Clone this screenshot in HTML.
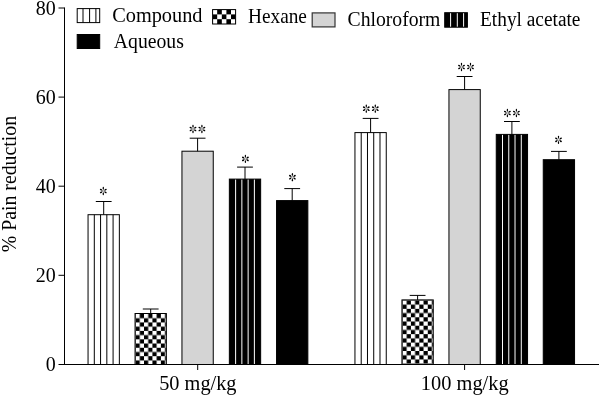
<!DOCTYPE html>
<html><head><meta charset="utf-8"><style>
html,body{margin:0;padding:0;background:#fff;width:600px;height:396px;overflow:hidden}
#w{will-change:transform;width:600px;height:396px}
svg{display:block}
.t{font-family:"Liberation Serif",serif;font-size:20px;fill:#000}
</style></head><body><div id="w">
<svg width="600" height="396" viewBox="0 0 600 396">
<defs>
<pattern id="chk0" patternUnits="userSpaceOnUse" x="135.55" y="314.00" width="8.440" height="8.440">
<rect width="8.440" height="8.440" fill="#fff"/><rect x="4.220" y="0" width="4.220" height="4.220" fill="#000"/><rect x="0" y="4.220" width="4.220" height="4.220" fill="#000"/></pattern>
<pattern id="chk1" patternUnits="userSpaceOnUse" x="402.45" y="300.40" width="8.440" height="8.440">
<rect width="8.440" height="8.440" fill="#fff"/><rect x="4.220" y="0" width="4.220" height="4.220" fill="#000"/><rect x="0" y="4.220" width="4.220" height="4.220" fill="#000"/></pattern>
<pattern id="chkL" patternUnits="userSpaceOnUse" x="212.6" y="9.6" width="9.2" height="9.6">
<rect width="9.2" height="9.6" fill="#fff"/><rect x="4.6" y="0" width="4.6" height="4.8" fill="#000"/><rect x="0" y="4.8" width="4.6" height="4.8" fill="#000"/></pattern>
</defs>
<rect width="600" height="396" fill="#fff"/>
<rect x="88.05" y="214.70" width="31.3" height="149.80" fill="#fff" stroke="#000" stroke-width="1.0"/>
<line x1="94.31" y1="214.70" x2="94.31" y2="364.5" stroke="#000" stroke-width="1.0"/>
<line x1="100.57" y1="214.70" x2="100.57" y2="364.5" stroke="#000" stroke-width="1.0"/>
<line x1="106.83" y1="214.70" x2="106.83" y2="364.5" stroke="#000" stroke-width="1.0"/>
<line x1="113.09" y1="214.70" x2="113.09" y2="364.5" stroke="#000" stroke-width="1.0"/>
<line x1="103.70" y1="201.50" x2="103.70" y2="214.70" stroke="#000" stroke-width="1.0"/>
<line x1="95.80" y1="201.50" x2="111.60" y2="201.50" stroke="#000" stroke-width="1.0"/>
<rect x="135.05" y="313.50" width="31.3" height="51.00" fill="url(#chk0)" stroke="#000" stroke-width="1.0"/>
<line x1="150.70" y1="309.00" x2="150.70" y2="313.50" stroke="#000" stroke-width="1.0"/>
<line x1="142.80" y1="309.00" x2="158.60" y2="309.00" stroke="#000" stroke-width="1.0"/>
<rect x="181.95" y="151.20" width="31.3" height="213.30" fill="#d4d4d4" stroke="#000" stroke-width="1.0"/>
<line x1="197.60" y1="138.20" x2="197.60" y2="151.20" stroke="#000" stroke-width="1.0"/>
<line x1="189.70" y1="138.20" x2="205.50" y2="138.20" stroke="#000" stroke-width="1.0"/>
<rect x="229.35" y="179.10" width="31.3" height="185.40" fill="#000" stroke="#000" stroke-width="1.0"/>
<line x1="235.61" y1="179.60" x2="235.61" y2="364.5" stroke="#fff" stroke-width="1"/>
<line x1="241.87" y1="179.60" x2="241.87" y2="364.5" stroke="#fff" stroke-width="1"/>
<line x1="248.13" y1="179.60" x2="248.13" y2="364.5" stroke="#fff" stroke-width="1"/>
<line x1="254.39" y1="179.60" x2="254.39" y2="364.5" stroke="#fff" stroke-width="1"/>
<line x1="245.00" y1="167.10" x2="245.00" y2="179.10" stroke="#000" stroke-width="1.0"/>
<line x1="237.10" y1="167.10" x2="252.90" y2="167.10" stroke="#000" stroke-width="1.0"/>
<rect x="276.55" y="200.60" width="31.3" height="163.90" fill="#000" stroke="#000" stroke-width="1.0"/>
<line x1="292.20" y1="188.60" x2="292.20" y2="200.60" stroke="#000" stroke-width="1.0"/>
<line x1="284.30" y1="188.60" x2="300.10" y2="188.60" stroke="#000" stroke-width="1.0"/>
<rect x="354.95" y="132.60" width="31.3" height="231.90" fill="#fff" stroke="#000" stroke-width="1.0"/>
<line x1="361.21" y1="132.60" x2="361.21" y2="364.5" stroke="#000" stroke-width="1.0"/>
<line x1="367.47" y1="132.60" x2="367.47" y2="364.5" stroke="#000" stroke-width="1.0"/>
<line x1="373.73" y1="132.60" x2="373.73" y2="364.5" stroke="#000" stroke-width="1.0"/>
<line x1="379.99" y1="132.60" x2="379.99" y2="364.5" stroke="#000" stroke-width="1.0"/>
<line x1="370.60" y1="118.40" x2="370.60" y2="132.60" stroke="#000" stroke-width="1.0"/>
<line x1="362.70" y1="118.40" x2="378.50" y2="118.40" stroke="#000" stroke-width="1.0"/>
<rect x="401.95" y="299.90" width="31.3" height="64.60" fill="url(#chk1)" stroke="#000" stroke-width="1.0"/>
<line x1="417.60" y1="295.40" x2="417.60" y2="299.90" stroke="#000" stroke-width="1.0"/>
<line x1="409.70" y1="295.40" x2="425.50" y2="295.40" stroke="#000" stroke-width="1.0"/>
<rect x="448.95" y="89.60" width="31.3" height="274.90" fill="#d4d4d4" stroke="#000" stroke-width="1.0"/>
<line x1="464.60" y1="76.50" x2="464.60" y2="89.60" stroke="#000" stroke-width="1.0"/>
<line x1="456.70" y1="76.50" x2="472.50" y2="76.50" stroke="#000" stroke-width="1.0"/>
<rect x="496.25" y="134.40" width="31.3" height="230.10" fill="#000" stroke="#000" stroke-width="1.0"/>
<line x1="502.51" y1="134.90" x2="502.51" y2="364.5" stroke="#fff" stroke-width="1"/>
<line x1="508.77" y1="134.90" x2="508.77" y2="364.5" stroke="#fff" stroke-width="1"/>
<line x1="515.03" y1="134.90" x2="515.03" y2="364.5" stroke="#fff" stroke-width="1"/>
<line x1="521.29" y1="134.90" x2="521.29" y2="364.5" stroke="#fff" stroke-width="1"/>
<line x1="511.90" y1="121.50" x2="511.90" y2="134.40" stroke="#000" stroke-width="1.0"/>
<line x1="504.00" y1="121.50" x2="519.80" y2="121.50" stroke="#000" stroke-width="1.0"/>
<rect x="543.25" y="159.70" width="31.3" height="204.80" fill="#000" stroke="#000" stroke-width="1.0"/>
<line x1="558.90" y1="151.40" x2="558.90" y2="159.70" stroke="#000" stroke-width="1.0"/>
<line x1="551.00" y1="151.40" x2="566.80" y2="151.40" stroke="#000" stroke-width="1.0"/>
<line x1="103.30" y1="190.40" x2="103.30" y2="188.05" stroke="#000" stroke-width="0.5"/><ellipse cx="103.30" cy="188.05" rx="1.2" ry="0.65" transform="rotate(-90 103.30 188.05)" fill="#000"/><line x1="103.81" y1="190.69" x2="105.61" y2="189.61" stroke="#000" stroke-width="0.5"/><ellipse cx="105.61" cy="189.61" rx="1.2" ry="0.8" transform="rotate(-31 105.61 189.61)" fill="#000"/><line x1="103.81" y1="191.31" x2="105.61" y2="192.39" stroke="#000" stroke-width="0.5"/><ellipse cx="105.61" cy="192.39" rx="1.2" ry="0.8" transform="rotate(31 105.61 192.39)" fill="#000"/><line x1="103.30" y1="191.60" x2="103.30" y2="193.95" stroke="#000" stroke-width="0.5"/><ellipse cx="103.30" cy="193.95" rx="1.2" ry="0.65" transform="rotate(90 103.30 193.95)" fill="#000"/><line x1="102.79" y1="191.31" x2="100.99" y2="192.39" stroke="#000" stroke-width="0.5"/><ellipse cx="100.99" cy="192.39" rx="1.2" ry="0.8" transform="rotate(149 100.99 192.39)" fill="#000"/><line x1="102.79" y1="190.69" x2="100.99" y2="189.61" stroke="#000" stroke-width="0.5"/><ellipse cx="100.99" cy="189.61" rx="1.2" ry="0.8" transform="rotate(211 100.99 189.61)" fill="#000"/>
<line x1="193.00" y1="128.40" x2="193.00" y2="126.05" stroke="#000" stroke-width="0.5"/><ellipse cx="193.00" cy="126.05" rx="1.2" ry="0.65" transform="rotate(-90 193.00 126.05)" fill="#000"/><line x1="193.51" y1="128.69" x2="195.31" y2="127.61" stroke="#000" stroke-width="0.5"/><ellipse cx="195.31" cy="127.61" rx="1.2" ry="0.8" transform="rotate(-31 195.31 127.61)" fill="#000"/><line x1="193.51" y1="129.31" x2="195.31" y2="130.39" stroke="#000" stroke-width="0.5"/><ellipse cx="195.31" cy="130.39" rx="1.2" ry="0.8" transform="rotate(31 195.31 130.39)" fill="#000"/><line x1="193.00" y1="129.60" x2="193.00" y2="131.95" stroke="#000" stroke-width="0.5"/><ellipse cx="193.00" cy="131.95" rx="1.2" ry="0.65" transform="rotate(90 193.00 131.95)" fill="#000"/><line x1="192.49" y1="129.31" x2="190.69" y2="130.39" stroke="#000" stroke-width="0.5"/><ellipse cx="190.69" cy="130.39" rx="1.2" ry="0.8" transform="rotate(149 190.69 130.39)" fill="#000"/><line x1="192.49" y1="128.69" x2="190.69" y2="127.61" stroke="#000" stroke-width="0.5"/><ellipse cx="190.69" cy="127.61" rx="1.2" ry="0.8" transform="rotate(211 190.69 127.61)" fill="#000"/>
<line x1="201.90" y1="128.40" x2="201.90" y2="126.05" stroke="#000" stroke-width="0.5"/><ellipse cx="201.90" cy="126.05" rx="1.2" ry="0.65" transform="rotate(-90 201.90 126.05)" fill="#000"/><line x1="202.41" y1="128.69" x2="204.21" y2="127.61" stroke="#000" stroke-width="0.5"/><ellipse cx="204.21" cy="127.61" rx="1.2" ry="0.8" transform="rotate(-31 204.21 127.61)" fill="#000"/><line x1="202.41" y1="129.31" x2="204.21" y2="130.39" stroke="#000" stroke-width="0.5"/><ellipse cx="204.21" cy="130.39" rx="1.2" ry="0.8" transform="rotate(31 204.21 130.39)" fill="#000"/><line x1="201.90" y1="129.60" x2="201.90" y2="131.95" stroke="#000" stroke-width="0.5"/><ellipse cx="201.90" cy="131.95" rx="1.2" ry="0.65" transform="rotate(90 201.90 131.95)" fill="#000"/><line x1="201.39" y1="129.31" x2="199.59" y2="130.39" stroke="#000" stroke-width="0.5"/><ellipse cx="199.59" cy="130.39" rx="1.2" ry="0.8" transform="rotate(149 199.59 130.39)" fill="#000"/><line x1="201.39" y1="128.69" x2="199.59" y2="127.61" stroke="#000" stroke-width="0.5"/><ellipse cx="199.59" cy="127.61" rx="1.2" ry="0.8" transform="rotate(211 199.59 127.61)" fill="#000"/>
<line x1="245.40" y1="158.30" x2="245.40" y2="155.95" stroke="#000" stroke-width="0.5"/><ellipse cx="245.40" cy="155.95" rx="1.2" ry="0.65" transform="rotate(-90 245.40 155.95)" fill="#000"/><line x1="245.91" y1="158.59" x2="247.71" y2="157.51" stroke="#000" stroke-width="0.5"/><ellipse cx="247.71" cy="157.51" rx="1.2" ry="0.8" transform="rotate(-31 247.71 157.51)" fill="#000"/><line x1="245.91" y1="159.21" x2="247.71" y2="160.29" stroke="#000" stroke-width="0.5"/><ellipse cx="247.71" cy="160.29" rx="1.2" ry="0.8" transform="rotate(31 247.71 160.29)" fill="#000"/><line x1="245.40" y1="159.50" x2="245.40" y2="161.85" stroke="#000" stroke-width="0.5"/><ellipse cx="245.40" cy="161.85" rx="1.2" ry="0.65" transform="rotate(90 245.40 161.85)" fill="#000"/><line x1="244.89" y1="159.21" x2="243.09" y2="160.29" stroke="#000" stroke-width="0.5"/><ellipse cx="243.09" cy="160.29" rx="1.2" ry="0.8" transform="rotate(149 243.09 160.29)" fill="#000"/><line x1="244.89" y1="158.59" x2="243.09" y2="157.51" stroke="#000" stroke-width="0.5"/><ellipse cx="243.09" cy="157.51" rx="1.2" ry="0.8" transform="rotate(211 243.09 157.51)" fill="#000"/>
<line x1="292.40" y1="176.60" x2="292.40" y2="174.25" stroke="#000" stroke-width="0.5"/><ellipse cx="292.40" cy="174.25" rx="1.2" ry="0.65" transform="rotate(-90 292.40 174.25)" fill="#000"/><line x1="292.91" y1="176.89" x2="294.71" y2="175.81" stroke="#000" stroke-width="0.5"/><ellipse cx="294.71" cy="175.81" rx="1.2" ry="0.8" transform="rotate(-31 294.71 175.81)" fill="#000"/><line x1="292.91" y1="177.51" x2="294.71" y2="178.59" stroke="#000" stroke-width="0.5"/><ellipse cx="294.71" cy="178.59" rx="1.2" ry="0.8" transform="rotate(31 294.71 178.59)" fill="#000"/><line x1="292.40" y1="177.80" x2="292.40" y2="180.15" stroke="#000" stroke-width="0.5"/><ellipse cx="292.40" cy="180.15" rx="1.2" ry="0.65" transform="rotate(90 292.40 180.15)" fill="#000"/><line x1="291.89" y1="177.51" x2="290.09" y2="178.59" stroke="#000" stroke-width="0.5"/><ellipse cx="290.09" cy="178.59" rx="1.2" ry="0.8" transform="rotate(149 290.09 178.59)" fill="#000"/><line x1="291.89" y1="176.89" x2="290.09" y2="175.81" stroke="#000" stroke-width="0.5"/><ellipse cx="290.09" cy="175.81" rx="1.2" ry="0.8" transform="rotate(211 290.09 175.81)" fill="#000"/>
<line x1="366.30" y1="108.10" x2="366.30" y2="105.75" stroke="#000" stroke-width="0.5"/><ellipse cx="366.30" cy="105.75" rx="1.2" ry="0.65" transform="rotate(-90 366.30 105.75)" fill="#000"/><line x1="366.81" y1="108.39" x2="368.61" y2="107.31" stroke="#000" stroke-width="0.5"/><ellipse cx="368.61" cy="107.31" rx="1.2" ry="0.8" transform="rotate(-31 368.61 107.31)" fill="#000"/><line x1="366.81" y1="109.01" x2="368.61" y2="110.09" stroke="#000" stroke-width="0.5"/><ellipse cx="368.61" cy="110.09" rx="1.2" ry="0.8" transform="rotate(31 368.61 110.09)" fill="#000"/><line x1="366.30" y1="109.30" x2="366.30" y2="111.65" stroke="#000" stroke-width="0.5"/><ellipse cx="366.30" cy="111.65" rx="1.2" ry="0.65" transform="rotate(90 366.30 111.65)" fill="#000"/><line x1="365.79" y1="109.01" x2="363.99" y2="110.09" stroke="#000" stroke-width="0.5"/><ellipse cx="363.99" cy="110.09" rx="1.2" ry="0.8" transform="rotate(149 363.99 110.09)" fill="#000"/><line x1="365.79" y1="108.39" x2="363.99" y2="107.31" stroke="#000" stroke-width="0.5"/><ellipse cx="363.99" cy="107.31" rx="1.2" ry="0.8" transform="rotate(211 363.99 107.31)" fill="#000"/>
<line x1="375.30" y1="108.10" x2="375.30" y2="105.75" stroke="#000" stroke-width="0.5"/><ellipse cx="375.30" cy="105.75" rx="1.2" ry="0.65" transform="rotate(-90 375.30 105.75)" fill="#000"/><line x1="375.81" y1="108.39" x2="377.61" y2="107.31" stroke="#000" stroke-width="0.5"/><ellipse cx="377.61" cy="107.31" rx="1.2" ry="0.8" transform="rotate(-31 377.61 107.31)" fill="#000"/><line x1="375.81" y1="109.01" x2="377.61" y2="110.09" stroke="#000" stroke-width="0.5"/><ellipse cx="377.61" cy="110.09" rx="1.2" ry="0.8" transform="rotate(31 377.61 110.09)" fill="#000"/><line x1="375.30" y1="109.30" x2="375.30" y2="111.65" stroke="#000" stroke-width="0.5"/><ellipse cx="375.30" cy="111.65" rx="1.2" ry="0.65" transform="rotate(90 375.30 111.65)" fill="#000"/><line x1="374.79" y1="109.01" x2="372.99" y2="110.09" stroke="#000" stroke-width="0.5"/><ellipse cx="372.99" cy="110.09" rx="1.2" ry="0.8" transform="rotate(149 372.99 110.09)" fill="#000"/><line x1="374.79" y1="108.39" x2="372.99" y2="107.31" stroke="#000" stroke-width="0.5"/><ellipse cx="372.99" cy="107.31" rx="1.2" ry="0.8" transform="rotate(211 372.99 107.31)" fill="#000"/>
<line x1="461.50" y1="66.40" x2="461.50" y2="64.05" stroke="#000" stroke-width="0.5"/><ellipse cx="461.50" cy="64.05" rx="1.2" ry="0.65" transform="rotate(-90 461.50 64.05)" fill="#000"/><line x1="462.01" y1="66.69" x2="463.81" y2="65.61" stroke="#000" stroke-width="0.5"/><ellipse cx="463.81" cy="65.61" rx="1.2" ry="0.8" transform="rotate(-31 463.81 65.61)" fill="#000"/><line x1="462.01" y1="67.31" x2="463.81" y2="68.39" stroke="#000" stroke-width="0.5"/><ellipse cx="463.81" cy="68.39" rx="1.2" ry="0.8" transform="rotate(31 463.81 68.39)" fill="#000"/><line x1="461.50" y1="67.60" x2="461.50" y2="69.95" stroke="#000" stroke-width="0.5"/><ellipse cx="461.50" cy="69.95" rx="1.2" ry="0.65" transform="rotate(90 461.50 69.95)" fill="#000"/><line x1="460.99" y1="67.31" x2="459.19" y2="68.39" stroke="#000" stroke-width="0.5"/><ellipse cx="459.19" cy="68.39" rx="1.2" ry="0.8" transform="rotate(149 459.19 68.39)" fill="#000"/><line x1="460.99" y1="66.69" x2="459.19" y2="65.61" stroke="#000" stroke-width="0.5"/><ellipse cx="459.19" cy="65.61" rx="1.2" ry="0.8" transform="rotate(211 459.19 65.61)" fill="#000"/>
<line x1="470.50" y1="66.40" x2="470.50" y2="64.05" stroke="#000" stroke-width="0.5"/><ellipse cx="470.50" cy="64.05" rx="1.2" ry="0.65" transform="rotate(-90 470.50 64.05)" fill="#000"/><line x1="471.01" y1="66.69" x2="472.81" y2="65.61" stroke="#000" stroke-width="0.5"/><ellipse cx="472.81" cy="65.61" rx="1.2" ry="0.8" transform="rotate(-31 472.81 65.61)" fill="#000"/><line x1="471.01" y1="67.31" x2="472.81" y2="68.39" stroke="#000" stroke-width="0.5"/><ellipse cx="472.81" cy="68.39" rx="1.2" ry="0.8" transform="rotate(31 472.81 68.39)" fill="#000"/><line x1="470.50" y1="67.60" x2="470.50" y2="69.95" stroke="#000" stroke-width="0.5"/><ellipse cx="470.50" cy="69.95" rx="1.2" ry="0.65" transform="rotate(90 470.50 69.95)" fill="#000"/><line x1="469.99" y1="67.31" x2="468.19" y2="68.39" stroke="#000" stroke-width="0.5"/><ellipse cx="468.19" cy="68.39" rx="1.2" ry="0.8" transform="rotate(149 468.19 68.39)" fill="#000"/><line x1="469.99" y1="66.69" x2="468.19" y2="65.61" stroke="#000" stroke-width="0.5"/><ellipse cx="468.19" cy="65.61" rx="1.2" ry="0.8" transform="rotate(211 468.19 65.61)" fill="#000"/>
<line x1="507.40" y1="112.40" x2="507.40" y2="110.05" stroke="#000" stroke-width="0.5"/><ellipse cx="507.40" cy="110.05" rx="1.2" ry="0.65" transform="rotate(-90 507.40 110.05)" fill="#000"/><line x1="507.91" y1="112.69" x2="509.71" y2="111.61" stroke="#000" stroke-width="0.5"/><ellipse cx="509.71" cy="111.61" rx="1.2" ry="0.8" transform="rotate(-31 509.71 111.61)" fill="#000"/><line x1="507.91" y1="113.31" x2="509.71" y2="114.39" stroke="#000" stroke-width="0.5"/><ellipse cx="509.71" cy="114.39" rx="1.2" ry="0.8" transform="rotate(31 509.71 114.39)" fill="#000"/><line x1="507.40" y1="113.60" x2="507.40" y2="115.95" stroke="#000" stroke-width="0.5"/><ellipse cx="507.40" cy="115.95" rx="1.2" ry="0.65" transform="rotate(90 507.40 115.95)" fill="#000"/><line x1="506.89" y1="113.31" x2="505.09" y2="114.39" stroke="#000" stroke-width="0.5"/><ellipse cx="505.09" cy="114.39" rx="1.2" ry="0.8" transform="rotate(149 505.09 114.39)" fill="#000"/><line x1="506.89" y1="112.69" x2="505.09" y2="111.61" stroke="#000" stroke-width="0.5"/><ellipse cx="505.09" cy="111.61" rx="1.2" ry="0.8" transform="rotate(211 505.09 111.61)" fill="#000"/>
<line x1="516.40" y1="112.40" x2="516.40" y2="110.05" stroke="#000" stroke-width="0.5"/><ellipse cx="516.40" cy="110.05" rx="1.2" ry="0.65" transform="rotate(-90 516.40 110.05)" fill="#000"/><line x1="516.91" y1="112.69" x2="518.71" y2="111.61" stroke="#000" stroke-width="0.5"/><ellipse cx="518.71" cy="111.61" rx="1.2" ry="0.8" transform="rotate(-31 518.71 111.61)" fill="#000"/><line x1="516.91" y1="113.31" x2="518.71" y2="114.39" stroke="#000" stroke-width="0.5"/><ellipse cx="518.71" cy="114.39" rx="1.2" ry="0.8" transform="rotate(31 518.71 114.39)" fill="#000"/><line x1="516.40" y1="113.60" x2="516.40" y2="115.95" stroke="#000" stroke-width="0.5"/><ellipse cx="516.40" cy="115.95" rx="1.2" ry="0.65" transform="rotate(90 516.40 115.95)" fill="#000"/><line x1="515.89" y1="113.31" x2="514.09" y2="114.39" stroke="#000" stroke-width="0.5"/><ellipse cx="514.09" cy="114.39" rx="1.2" ry="0.8" transform="rotate(149 514.09 114.39)" fill="#000"/><line x1="515.89" y1="112.69" x2="514.09" y2="111.61" stroke="#000" stroke-width="0.5"/><ellipse cx="514.09" cy="111.61" rx="1.2" ry="0.8" transform="rotate(211 514.09 111.61)" fill="#000"/>
<line x1="558.50" y1="139.20" x2="558.50" y2="136.85" stroke="#000" stroke-width="0.5"/><ellipse cx="558.50" cy="136.85" rx="1.2" ry="0.65" transform="rotate(-90 558.50 136.85)" fill="#000"/><line x1="559.01" y1="139.49" x2="560.81" y2="138.41" stroke="#000" stroke-width="0.5"/><ellipse cx="560.81" cy="138.41" rx="1.2" ry="0.8" transform="rotate(-31 560.81 138.41)" fill="#000"/><line x1="559.01" y1="140.11" x2="560.81" y2="141.19" stroke="#000" stroke-width="0.5"/><ellipse cx="560.81" cy="141.19" rx="1.2" ry="0.8" transform="rotate(31 560.81 141.19)" fill="#000"/><line x1="558.50" y1="140.40" x2="558.50" y2="142.75" stroke="#000" stroke-width="0.5"/><ellipse cx="558.50" cy="142.75" rx="1.2" ry="0.65" transform="rotate(90 558.50 142.75)" fill="#000"/><line x1="557.99" y1="140.11" x2="556.19" y2="141.19" stroke="#000" stroke-width="0.5"/><ellipse cx="556.19" cy="141.19" rx="1.2" ry="0.8" transform="rotate(149 556.19 141.19)" fill="#000"/><line x1="557.99" y1="139.49" x2="556.19" y2="138.41" stroke="#000" stroke-width="0.5"/><ellipse cx="556.19" cy="138.41" rx="1.2" ry="0.8" transform="rotate(211 556.19 138.41)" fill="#000"/>
<line x1="64.5" y1="7.5" x2="64.5" y2="365" stroke="#000" stroke-width="1"/>
<line x1="64" y1="364.5" x2="599" y2="364.5" stroke="#000" stroke-width="1"/>
<line x1="58.5" y1="8.0" x2="64.5" y2="8.0" stroke="#000" stroke-width="1"/>
<text x="55.8" y="14.6" text-anchor="end" class="t">80</text>
<line x1="58.5" y1="97.1" x2="64.5" y2="97.1" stroke="#000" stroke-width="1"/>
<text x="55.8" y="103.7" text-anchor="end" class="t">60</text>
<line x1="58.5" y1="186.2" x2="64.5" y2="186.2" stroke="#000" stroke-width="1"/>
<text x="55.8" y="192.8" text-anchor="end" class="t">40</text>
<line x1="58.5" y1="275.3" x2="64.5" y2="275.3" stroke="#000" stroke-width="1"/>
<text x="55.8" y="281.9" text-anchor="end" class="t">20</text>
<line x1="58.5" y1="364.5" x2="64.5" y2="364.5" stroke="#000" stroke-width="1"/>
<text x="55.8" y="371.1" text-anchor="end" class="t">0</text>
<line x1="197.7" y1="364.5" x2="197.7" y2="370" stroke="#000" stroke-width="1"/>
<line x1="464.6" y1="364.5" x2="464.6" y2="370" stroke="#000" stroke-width="1"/>
<text transform="translate(112.18,21.9) scale(1.0171,1)" class="t">Compound</text>
<text transform="translate(113.80,47.6) scale(0.9858,1)" class="t">Aqueous</text>
<text transform="translate(248.02,22.5) scale(0.9650,1)" class="t">Hexane</text>
<text transform="translate(347.52,25.8) scale(0.9839,1)" class="t">Chloroform</text>
<text transform="translate(480.02,25.8) scale(0.9678,1)" class="t">Ethyl acetate</text>
<text transform="translate(159.18,390.1) scale(1.0160,1)" class="t">50 mg/kg</text>
<text transform="translate(420.87,390.1) scale(1.0201,1)" class="t">100 mg/kg</text>
<text transform="translate(15.7,184.1) rotate(-90) scale(0.99,1)" text-anchor="middle" class="t">% Pain reduction</text>
<rect x="77.2" y="8.6" width="22.5" height="14" fill="#fff" stroke="#000" stroke-width="1"/>
<line x1="83" y1="8.6" x2="83" y2="22.6" stroke="#000"/>
<line x1="89.6" y1="8.6" x2="89.6" y2="22.6" stroke="#000"/>
<line x1="95.9" y1="8.6" x2="95.9" y2="22.6" stroke="#000"/>
<rect x="77.2" y="34.5" width="22.5" height="14" fill="#000" stroke="#000" stroke-width="1"/>
<rect x="212.6" y="9.6" width="23" height="14.4" fill="url(#chkL)" stroke="#000" stroke-width="1"/>
<rect x="312.2" y="12.9" width="22.8" height="14" fill="#d4d4d4" stroke="#333" stroke-width="1.2"/>
<rect x="444.7" y="12.7" width="22.7" height="14.5" fill="#000" stroke="#000" stroke-width="1"/>
<line x1="450.6" y1="13.2" x2="450.6" y2="26.7" stroke="#fff"/>
<line x1="457.3" y1="13.2" x2="457.3" y2="26.7" stroke="#fff"/>
<line x1="463.6" y1="13.2" x2="463.6" y2="26.7" stroke="#fff"/>
</svg>
</div></body></html>
